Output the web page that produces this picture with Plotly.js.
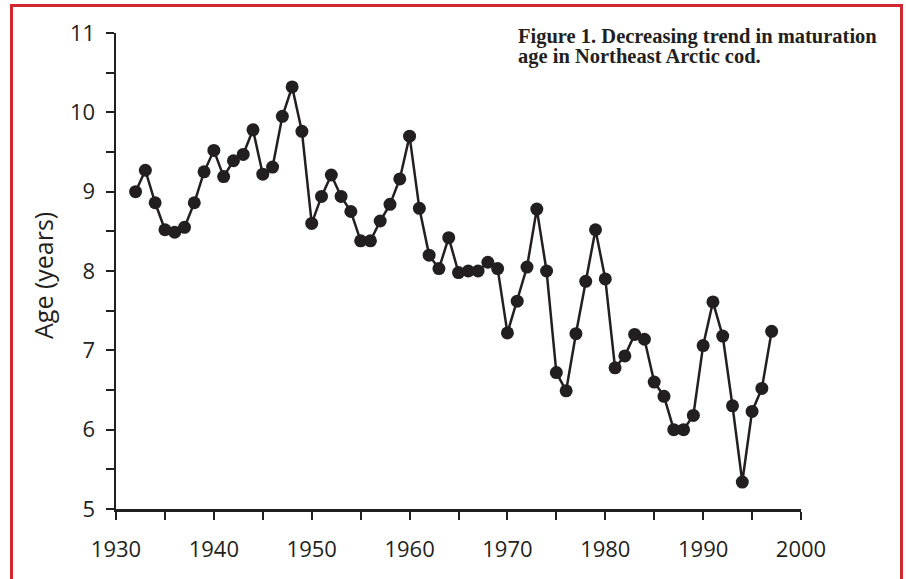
<!DOCTYPE html>
<html>
<head>
<meta charset="utf-8">
<script src="https://cdn.plot.ly/plotly-3.0.1.min.js"></script>
<style>
  html, body { margin: 0; padding: 0; background: #fff; overflow: hidden; }
  #chart { width: 906px; height: 579px; position: absolute; left: 0; top: 0; }
  #frame { position: absolute; left: 10px; top: 4px; width: 893px; height: 620px;
           border: 3px solid #d4262f; box-sizing: border-box; pointer-events: none; }
</style>
</head>
<body>
<div id="chart"></div>
<div id="frame"></div>
<script>
const years = [1932,1933,1934,1935,1936,1937,1938,1939,1940,1941,1942,1943,1944,1945,1946,1947,1948,1949,
  1950,1951,1952,1953,1954,1955,1956,1957,1958,1959,1960,1961,1962,1963,1964,1965,1966,1967,1968,1969,
  1970,1971,1972,1973,1974,1975,1976,1977,1978,1979,1980,1981,1982,1983,1984,1985,1986,1987,1988,1989,
  1990,1991,1992,1993,1994,1995,1996,1997];
const ages = [9.00,9.27,8.86,8.52,8.49,8.55,8.86,9.25,9.52,9.19,9.39,9.47,9.78,9.22,9.31,9.95,10.32,9.76,
  8.60,8.94,9.21,8.94,8.75,8.38,8.38,8.63,8.84,9.16,9.70,8.79,8.20,8.03,8.42,7.98,8.00,8.00,8.11,8.03,
  7.22,7.62,8.05,8.78,8.00,6.72,6.49,7.21,7.87,8.52,7.90,6.78,6.93,7.20,7.14,6.60,6.42,6.00,6.00,6.18,
  7.06,7.61,7.18,6.30,5.34,6.23,6.52,7.24];
const xTickVals = [1930,1940,1950,1960,1970,1980,1990,2000];
const yTickVals = [5,6,7,8,9,10,11];
const titleLines = ["Figure 1. Decreasing trend in maturation", "age in Northeast Arctic cod."];
const yTitle = "Age (years)";

const ink = '#231f20';
const trace = {
  x: years, y: ages, type: 'scatter', mode: 'lines+markers',
  line: {color: ink, width: 2.5},
  marker: {color: ink, size: 13},
  hoverinfo: 'skip'
};
const tickFont = {family: 'Open Sans, sans-serif', size: 22, color: ink};
const titleFont = {family: 'Liberation Serif, serif', size: 20.5, color: ink, weight: 'bold'};
const layout = {
  width: 906, height: 579,
  margin: {l: 116, r: 105, t: 33, b: 70},
  paper_bgcolor: '#fff', plot_bgcolor: '#fff',
  showlegend: false,
  xaxis: {
    range: [1930, 2000], showgrid: false, zeroline: false,
    showline: true, linecolor: ink, linewidth: 2.5,
    tickvals: xTickVals, ticktext: xTickVals.map(String),
    ticks: 'outside', ticklen: 8, tickwidth: 2, tickcolor: ink,
    minor: {dtick: 5, tick0: 1930, ticks: 'outside', ticklen: 8, tickwidth: 2, tickcolor: ink, showgrid: false},
    tickfont: tickFont, ticklabelstandoff: 11
  },
  yaxis: {
    range: [5, 11], showgrid: false, zeroline: false,
    showline: true, linecolor: ink, linewidth: 2.5,
    tickvals: yTickVals, ticktext: yTickVals.map(String),
    ticks: 'outside', ticklen: 8, tickwidth: 2, tickcolor: ink,
    minor: {dtick: 0.5, tick0: 5, ticks: 'outside', ticklen: 8, tickwidth: 2, tickcolor: ink, showgrid: false},
    tickfont: tickFont, ticklabelstandoff: 6
  },
  annotations: [
    {text: titleLines[0], xref: 'paper', yref: 'paper', x: (516-116)/685, y: 1 - (37-33)/476,
     xanchor: 'left', yanchor: 'middle', align: 'left', showarrow: false, font: titleFont},
    {text: titleLines[1], xref: 'paper', yref: 'paper', x: (516-116)/685, y: 1 - (56-33)/476,
     xanchor: 'left', yanchor: 'middle', align: 'left', showarrow: false, font: titleFont},
    {text: yTitle, xref: 'paper', yref: 'paper', x: -(116-43)/685, y: 1 - (276-33)/476,
     xanchor: 'center', yanchor: 'middle', textangle: -90, showarrow: false,
     font: {family: 'Open Sans, sans-serif', size: 25, color: ink}}
  ]
};
Plotly.newPlot('chart', [trace], layout, {displayModeBar: false, staticPlot: true});
</script>
</body>
</html>
